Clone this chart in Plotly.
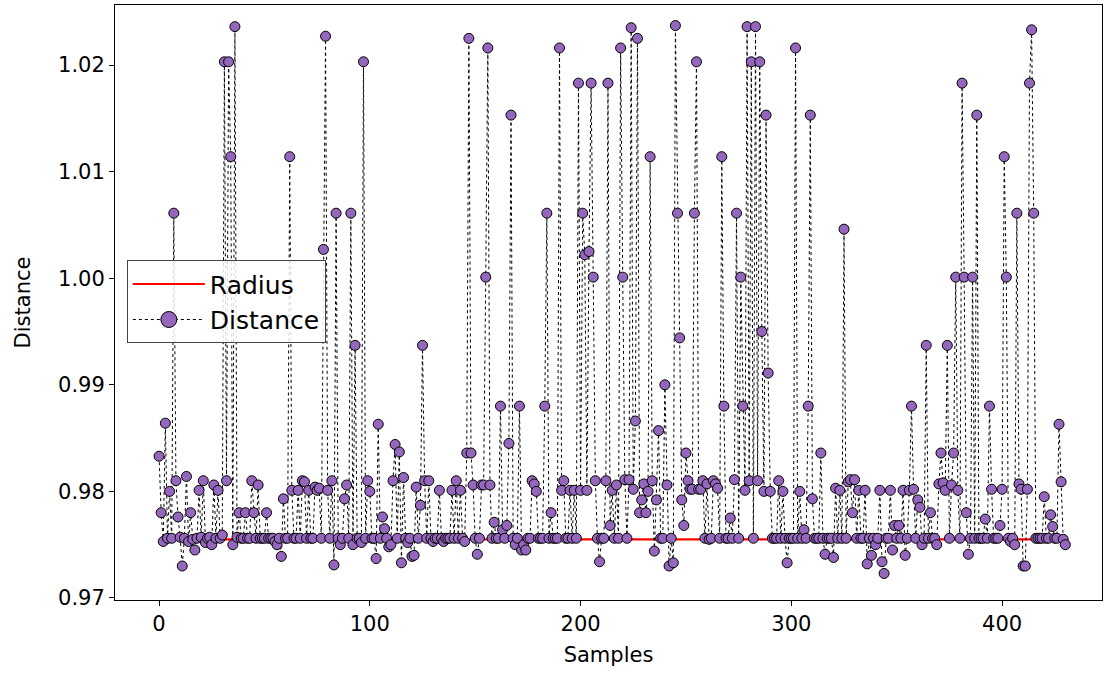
import plotly.graph_objects as go

# Distance per sample
distance = [
    0.9833, 0.9780, 0.9753, 0.9864, 0.9756, 0.9800, 0.9756, 1.0061, 0.9810, 0.9776,
    0.9757, 0.9730, 0.9756, 0.9814, 0.9753, 0.9780, 0.9755, 0.9745, 0.9756, 0.9801,
    0.9757, 0.9810, 0.9752, 0.9756, 0.9757, 0.9750, 0.9806, 0.9756, 0.9801, 0.9756,
    0.9759, 1.0203, 0.9810, 1.0203, 1.0114, 0.9750, 1.0236, 0.9757, 0.9780, 0.9756,
    0.9756, 0.9780, 0.9756, 0.9756, 0.9810, 0.9780, 0.9756, 0.9806, 0.9756, 0.9756,
    0.9756, 0.9780, 0.9756, 0.9756, 0.9756, 0.9753, 0.9750, 0.9756, 0.9739, 0.9793,
    0.9756, 0.9756, 1.0114, 0.9801, 0.9756, 0.9756, 0.9801, 0.9756, 0.9810, 0.9809,
    0.9756, 0.9801, 0.9756, 0.9756, 0.9804, 0.9801, 0.9803, 0.9756, 1.0027, 1.0227,
    0.9801, 0.9756, 0.9810, 0.9731, 1.0061, 0.9756, 0.9750, 0.9756, 0.9793, 0.9806,
    0.9756, 1.0061, 0.9750, 0.9937, 0.9756, 0.9756, 0.9752, 1.0203, 0.9756, 0.9810,
    0.9800, 0.9756, 0.9756, 0.9737, 0.9863, 0.9756, 0.9776, 0.9765, 0.9756, 0.9748,
    0.9750, 0.9810, 0.9844, 0.9756, 0.9837, 0.9733, 0.9813, 0.9756, 0.9752, 0.9756,
    0.9739, 0.9740, 0.9804, 0.9756, 0.9787, 0.9937, 0.9810, 0.9756, 0.9810, 0.9756,
    0.9753, 0.9756, 0.9756, 0.9801, 0.9756, 0.9753, 0.9756, 0.9756, 0.9756, 0.9801,
    0.9756, 0.9810, 0.9756, 0.9801, 0.9756, 0.9753, 0.9836, 1.0225, 0.9836, 0.9806,
    0.9756, 0.9741, 0.9756, 0.9806, 0.9806, 1.0001, 1.0216, 0.9806, 0.9756, 0.9771,
    0.9756, 0.9756, 0.9880, 0.9764, 0.9756, 0.9768, 0.9845, 1.0153, 0.9756, 0.9750,
    0.9756, 0.9880, 0.9745, 0.9750, 0.9745, 0.9756, 0.9756, 0.9810, 0.9807, 0.9800,
    0.9756, 0.9756, 0.9756, 0.9880, 1.0061, 0.9756, 0.9780, 0.9756, 0.9756, 0.9756,
    1.0216, 0.9801, 0.9810, 0.9756, 0.9756, 0.9801, 0.9756, 0.9801, 0.9756, 1.0183,
    0.9801, 1.0061, 1.0022, 0.9801, 1.0025, 1.0183, 1.0001, 0.9810, 0.9756, 0.9734,
    0.9756, 0.9756, 0.9810, 1.0183, 0.9768, 0.9801, 0.9756, 0.9806, 0.9756, 1.0216,
    1.0001, 0.9811, 0.9756, 0.9811, 1.0235, 0.9802, 0.9866, 1.0225, 0.9780, 0.9792,
    0.9807, 0.9780, 0.9800, 1.0114, 0.9810, 0.9744, 0.9792, 0.9857, 0.9756, 0.9756,
    0.9900, 0.9806, 0.9730, 0.9756, 0.9733, 1.0237, 1.0061, 0.9944, 0.9792, 0.9768,
    0.9836, 0.9810, 0.9802, 0.9802, 1.0061, 1.0203, 0.9802, 0.9802, 0.9810, 0.9756,
    0.9807, 0.9755, 0.9756, 0.9810, 0.9807, 0.9803, 0.9756, 1.0114, 0.9880, 0.9756,
    0.9756, 0.9775, 0.9756, 0.9811, 1.0061, 0.9756, 1.0001, 0.9880, 0.9801, 1.0236,
    0.9810, 1.0203, 0.9756, 1.0236, 0.9810, 1.0203, 0.9950, 0.9800, 1.0153, 0.9911,
    0.9800, 0.9756, 0.9756, 0.9756, 0.9810, 0.9756, 0.9800, 0.9756, 0.9733, 0.9756,
    0.9756, 0.9756, 1.0216, 0.9756, 0.9800, 0.9756, 0.9764, 0.9756, 0.9880, 1.0153,
    0.9793, 0.9756, 0.9756, 0.9756, 0.9836, 0.9756, 0.9741, 0.9756, 0.9756, 0.9756,
    0.9738, 0.9803, 0.9756, 0.9801, 0.9756, 1.0046, 0.9756, 0.9809, 0.9811, 0.9780,
    0.9811, 0.9756, 0.9801, 0.9756, 0.9756, 0.9801, 0.9732, 0.9756, 0.9740, 0.9756,
    0.9750, 0.9756, 0.9801, 0.9734, 0.9723, 0.9756, 0.9756, 0.9801, 0.9745, 0.9768,
    0.9756, 0.9768, 0.9756, 0.9801, 0.9740, 0.9756, 0.9801, 0.9880, 0.9802, 0.9756,
    0.9792, 0.9785, 0.9750, 0.9756, 0.9937, 0.9756, 0.9780, 0.9756, 0.9756, 0.9750,
    0.9807, 0.9836, 0.9808, 0.9801, 0.9937, 0.9756, 0.9806, 0.9836, 1.0001, 0.9801,
    0.9756, 1.0183, 1.0001, 0.9780, 0.9741, 0.9756, 1.0001, 0.9756, 1.0153, 0.9756,
    0.9756, 0.9756, 0.9774, 0.9756, 0.9880, 0.9802, 0.9756, 0.9756, 0.9756, 0.9768,
    0.9802, 1.0114, 1.0001, 0.9756, 0.9753, 0.9756, 0.9750, 1.0061, 0.9807, 0.9802,
    0.9730, 0.9730, 0.9802, 1.0183, 1.0233, 1.0061, 0.9756, 0.9756, 0.9756, 0.9756,
    0.9795, 0.9756, 0.9756, 0.9778, 0.9767, 0.9756, 0.9756, 0.9863, 0.9809, 0.9755,
    0.9750,
]
radius = 0.9755
samples = list(range(len(distance)))

x_ticks = [0, 100, 200, 300, 400]
y_ticks = [0.97, 0.98, 0.99, 1.00, 1.01, 1.02]

purple = "#9467bd"
fig = go.Figure()
fig.add_trace(go.Scatter(
    x=[samples[0], samples[-1]], y=[radius, radius], mode="lines", name="Radius",
    line=dict(color="red", width=2.2),
))
fig.add_trace(go.Scatter(
    x=samples, y=distance, mode="lines+markers", name="Distance", showlegend=False,
    line=dict(color="black", width=1, dash="dot"),
    marker=dict(size=10, color=purple, line=dict(color="black", width=1)),
))
# legend entry with the enlarged marker, as in the reference legend
fig.add_trace(go.Scatter(
    x=[None], y=[None], mode="lines+markers", name="Distance",
    line=dict(color="black", width=1, dash="dot"),
    marker=dict(size=16, color=purple, line=dict(color="black", width=1)),
))

font_family = "DejaVu Sans"
fig.update_layout(
    width=1104, height=673,
    margin=dict(l=115, r=2, t=5, b=73),
    paper_bgcolor="white", plot_bgcolor="white",
    font=dict(family=font_family, size=21, color="black"),
    showlegend=True,
    legend=dict(
        x=0.012, y=0.571, xanchor="left", yanchor="top",
        bgcolor="rgba(255,255,255,0.85)", bordercolor="#444", borderwidth=1,
        font=dict(size=25, family=font_family),
        itemwidth=72, tracegroupgap=0,
    ),
)
fig.update_xaxes(
    range=[-20.9, 447.4], tickvals=x_ticks, ticktext=[str(v) for v in x_ticks],
    showline=True, mirror=True, linecolor="black", linewidth=1,
    ticks="outside", ticklen=5, tickcolor="black", showgrid=False, zeroline=False,
    title=dict(text="Samples", font=dict(size=21), standoff=12),
    tickfont=dict(size=21),
)
fig.update_yaxes(
    range=[0.96981, 1.02563], tickvals=y_ticks, ticktext=[f"{v:.2f}" for v in y_ticks],
    showline=True, mirror=True, linecolor="black", linewidth=1,
    ticks="outside", ticklen=5, tickcolor="black", showgrid=False, zeroline=False,
    title=dict(text="Distance", font=dict(size=21), standoff=21),
    tickfont=dict(size=21),
)

fig.write_html("out.html")
